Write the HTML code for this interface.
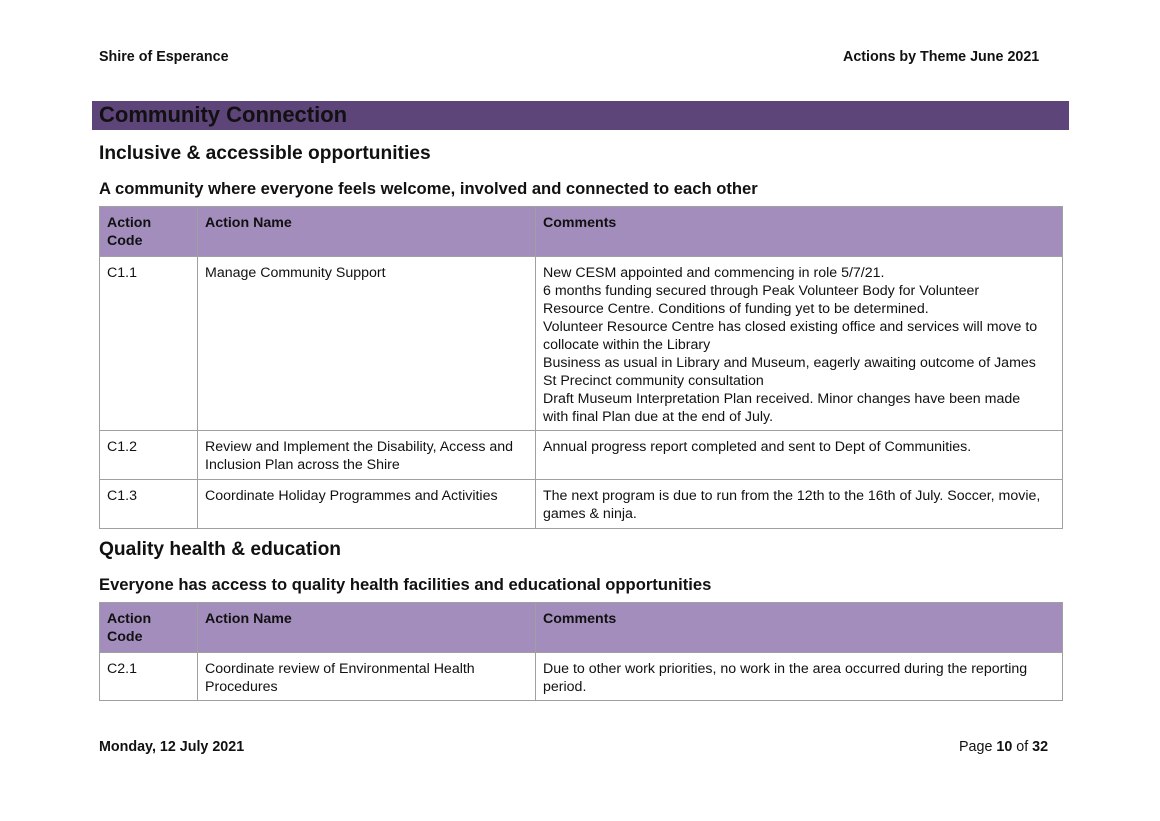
<!DOCTYPE html>
<html><head><meta charset="utf-8"><style>
body{margin:0;width:1160px;height:821px;background:#fff;position:relative;font-family:"Liberation Sans",Arial,sans-serif;color:#111;overflow:hidden}
.a{position:absolute;white-space:nowrap}
.b{font-weight:bold}
table{position:absolute;left:99px;width:964px;border-collapse:collapse;font-size:14.2px;line-height:18px;table-layout:fixed}
td{border:1px solid #a0a0a0;vertical-align:top;padding:7px 7px 0 7px;white-space:nowrap;box-sizing:border-box}
tr.h td{background:#a38dbd;font-weight:bold}
</style></head><body>
<div class="a b" style="left:99px;top:49px;font-size:14.3px">Shire of Esperance</div>
<div class="a b" style="left:843px;top:49px;font-size:14.3px">Actions by Theme June 2021</div>
<div class="a" style="left:92px;top:101px;width:977px;height:29px;background:#5d4479"></div>
<div class="a b" style="left:99px;top:101px;font-size:22px;line-height:28px;color:#111">Community Connection</div>
<div class="a b" style="left:99px;top:143px;font-size:19.2px">Inclusive &amp; accessible opportunities</div>
<div class="a b" style="left:99px;top:179px;font-size:16.6px">A community where everyone feels welcome, involved and connected to each other</div>
<table style="top:206px">
<colgroup><col style="width:98px"><col style="width:338px"><col></colgroup>
<tr class="h" style="height:50px"><td>Action<br>Code</td><td>Action Name</td><td>Comments</td></tr>
<tr style="height:174px"><td>C1.1</td><td>Manage Community Support</td><td>New CESM appointed and commencing in role 5/7/21.<br>6 months funding secured through Peak Volunteer Body for Volunteer<br>Resource Centre. Conditions of funding yet to be determined.<br>Volunteer Resource Centre has closed existing office and services will move to<br>collocate within the Library<br>Business as usual in Library and Museum, eagerly awaiting outcome of James<br>St Precinct community consultation<br>Draft Museum Interpretation Plan received. Minor changes have been made<br>with final Plan due at the end of July.</td></tr>
<tr style="height:49px"><td>C1.2</td><td>Review and Implement the Disability, Access and<br>Inclusion Plan across the Shire</td><td>Annual progress report completed and sent to Dept of Communities.</td></tr>
<tr style="height:49px"><td>C1.3</td><td>Coordinate Holiday Programmes and Activities</td><td>The next program is due to run from the 12th to the 16th of July. Soccer, movie,<br>games &amp; ninja.</td></tr>
</table>
<div class="a b" style="left:99px;top:539px;font-size:19.2px">Quality health &amp; education</div>
<div class="a b" style="left:99px;top:575px;font-size:16.6px">Everyone has access to quality health facilities and educational opportunities</div>
<table style="top:602px">
<colgroup><col style="width:98px"><col style="width:338px"><col></colgroup>
<tr class="h" style="height:50px"><td>Action<br>Code</td><td>Action Name</td><td>Comments</td></tr>
<tr style="height:48px"><td>C2.1</td><td>Coordinate review of Environmental Health<br>Procedures</td><td>Due to other work priorities, no work in the area occurred during the reporting<br>period.</td></tr>
</table>
<div class="a b" style="left:99px;top:739px;font-size:14.3px">Monday, 12 July 2021</div>
<div class="a" style="left:959px;top:739px;font-size:14.3px">Page <b>10</b> of <b>32</b></div>
</body></html>
